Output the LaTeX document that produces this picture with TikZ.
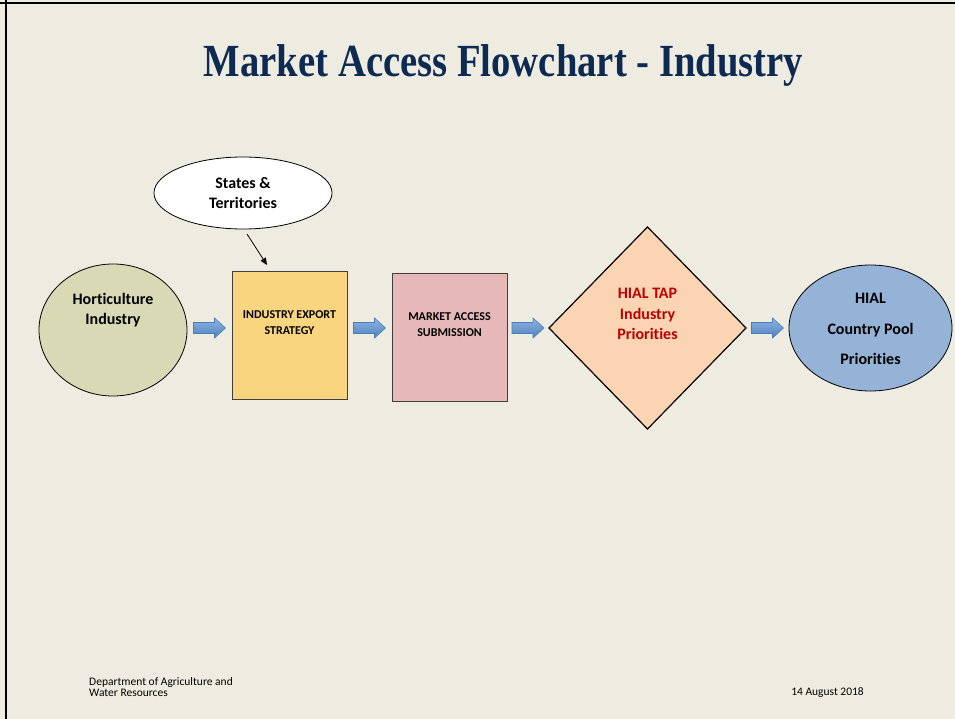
\documentclass[tikz,border=0pt]{standalone}
\usepackage{fontspec}
\usepackage{graphicx}
\setmainfont[Ligatures={NoCommon,NoContextual}]{Carlito}
\newfontfamily\titlefont{Liberation Serif}
\usetikzlibrary{shapes.geometric,arrows.meta,calc}
\definecolor{bg}{HTML}{EEECE1}
\definecolor{titleblue}{HTML}{0D2A52}
\definecolor{hortfill}{HTML}{D8DAB5}
\definecolor{iesfill}{HTML}{FAD580}
\definecolor{masfill}{HTML}{E6B8B7}
\definecolor{diafill}{HTML}{FBD4B4}
\definecolor{poolfill}{HTML}{95B3D7}
\definecolor{hialred}{HTML}{C00000}
\definecolor{arrowtop}{HTML}{8DB4E3}
\definecolor{arrowbot}{HTML}{4F81BD}
\definecolor{arrowedge}{HTML}{4A7EBB}
\definecolor{boxedge}{HTML}{3F3F3F}
\tikzset{
  shapebase/.style={inner sep=0pt, outer sep=0pt},
  ellnode/.style={shapebase, ellipse, draw=black, line width=0.8pt},
  boxnode/.style={shapebase, rectangle, draw=boxedge, line width=1pt, minimum width=115pt, minimum height=128pt},
  bigtext/.style={font=\bfseries\fontsize{16}{20.5}\selectfont, align=center, inner sep=0pt},
  smalltext/.style={font=\bfseries\fontsize{12}{16}\selectfont, align=center, inner sep=0pt},
  foottext/.style={font=\fontsize{11.5}{11}\selectfont, inner sep=0pt},
  thinarrow/.style={line width=0.8pt, -{Triangle[length=7pt,width=6pt]}},
  blockarrow/.pic={
    \path[draw=arrowedge, line width=0.6pt, top color=arrowtop, bottom color=arrowbot]
      (-16,-5.5) -- (5,-5.5) -- (5,-10) -- (16,0) -- (5,10) -- (5,5.5) -- (-16,5.5) -- cycle;
  }
}
\begin{document}
\begin{tikzpicture}[x=1pt,y=-1pt]
\fill[bg] (0,0) rectangle (955,719);
\useasboundingbox (0,0) rectangle (955,719);
% frame
\draw[black, line width=2pt] (0,3) -- (955,3);
\draw[black, line width=2.5pt] (6,0) -- (6,719);
% title
\node[anchor=base, text=titleblue, font=\titlefont\bfseries\fontsize{46}{50}\selectfont, inner sep=0pt] (title) at (503.5,77)
  {\resizebox{599pt}{\height}{Market Access Flowchart - Industry}};
% shapes
\node[ellnode, fill=hortfill, minimum width=148pt, minimum height=132pt] (hort) at (113,330) {};
\node[bigtext] (horttext) at ($(hort.center)+(0,-20)$) {Horticulture\\Industry};
\node[ellnode, fill=white, minimum width=178pt, minimum height=72pt] (states) at (243,193) {};
\node[bigtext, font=\bfseries\fontsize{16}{20}\selectfont] (statestext) at (states.center) {States \&\\Territories};
\node[boxnode, fill=iesfill] (ies) at (289.5,335) {};
\node[smalltext] (iestext) at ($(ies.center)+(0,-12)$) {INDUSTRY EXPORT\\STRATEGY};
\node[boxnode, fill=masfill] (mas) at (449.5,337) {};
\node[smalltext] (mastext) at ($(mas.center)+(0,-12)$) {MARKET ACCESS\\SUBMISSION};
\node[shapebase, diamond, draw=black, line width=1.2pt, fill=diafill, minimum width=197pt, minimum height=202pt] (dia) at (647.5,328) {};
\node[bigtext, text=hialred] (diatext) at ($(dia.center)+(0,-14)$) {HIAL TAP\\Industry\\Priorities};
\node[ellnode, fill=poolfill, minimum width=163pt, minimum height=126pt] (pool) at (870.5,328) {};
\node[bigtext, font=\bfseries\fontsize{16}{30.5}\selectfont] (pooltext) at ($(pool.center)+(0,1)$) {HIAL\\Country Pool\\Priorities};
% connectors
\draw[thinarrow] ([shift={(4,5)}]states.south) -- ([shift={(-22.5,-6)}]ies.north);
\pic at ($(hort.east |- dia.center)!0.5!(ies.west |- dia.center)$) {blockarrow};
\pic at ($(ies.east |- dia.center)!0.5!(mas.west |- dia.center)$) {blockarrow};
\pic at ($(mas.east |- dia.center)!0.5!(dia.west)$) {blockarrow};
\pic at ($(dia.east)!0.5!(pool.west)$) {blockarrow};
% footer
\node[foottext, align=left, anchor=north west] (dept) at (89,677) {Department of Agriculture and\\Water Resources};
\node[foottext, anchor=base east] (date) at (864,695.5) {14 August 2018};
\end{tikzpicture}
\end{document}
